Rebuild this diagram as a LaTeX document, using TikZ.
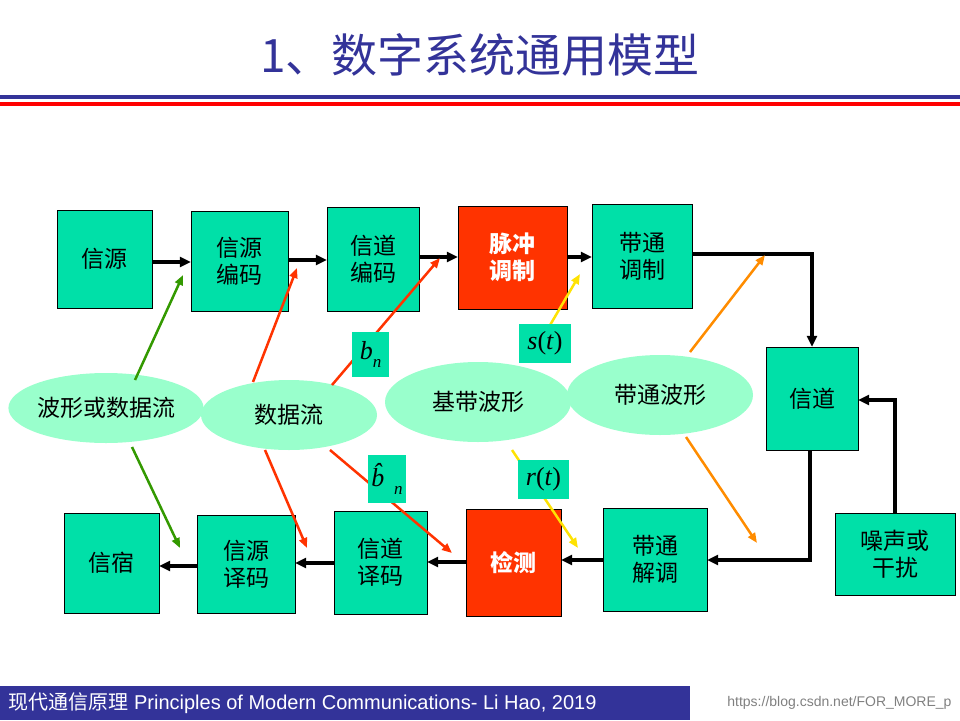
\documentclass[tikz,border=0pt]{standalone}
\usepackage{fontspec}
\setmainfont{Liberation Sans}
\newfontfamily\cjk{Noto Sans CJK SC}
\newfontfamily\tms{Liberation Serif}
\usetikzlibrary{arrows.meta,shapes.geometric}
\definecolor{tq}{HTML}{00E0A8}
\definecolor{rd}{HTML}{FF3300}
\definecolor{el}{HTML}{99FFCC}
\definecolor{tb}{HTML}{333399}
\begin{document}
\begin{tikzpicture}[x=1pt,y=-1pt,
 bx/.style={draw=black,fill=tq,inner sep=0pt,font=\cjk\fontsize{23}{27}\selectfont,align=center},
 rb/.style={bx,fill=rd,text=white,font=\cjk\bfseries\fontsize{23}{27}\selectfont},
 ell/.style={ellipse,fill=el,inner sep=0pt,font=\cjk\fontsize{23}{27}\selectfont},
 lab/.style={fill=tq,inner sep=0pt,font=\tms\fontsize{26}{28}\selectfont},
 ar/.style={line width=3.5pt,-{Triangle[length=11pt,width=10pt]}},
 da/.style={line width=2.5pt,-{Triangle[length=10pt,width=8pt]}}]
\useasboundingbox (0,0) rectangle (960,720);
\node[font=\cjk\fontsize{46}{50}\selectfont,text=tb] (title) at (480,55) {1、数字系统通用模型};
\fill[tb] (0,95) rectangle (960,99);
\fill[red] (0,102) rectangle (960,106);
\def\B#1#2#3#4#5#6#7{\node[#7,minimum width=#4-#2,minimum height=#5-#3] (#1) at ({(#2+#4)/2},{(#3+#5)/2}) {#6};}
\B{s1}{57}{210}{152}{308}{信源}{bx}
\B{s2}{191}{211}{288}{311}{信源\\编码}{bx}
\B{s3}{327}{207}{419}{311}{信道\\编码}{bx}
\B{s4}{458}{206}{567}{309}{脉冲\\调制}{rb}
\B{s5}{592}{204}{692}{308}{带通\\调制}{bx}
\B{ch}{766}{347}{858}{450}{信道}{bx}
\B{nz}{835}{513}{955}{595}{噪声或\\干扰}{bx}
\B{r5}{603}{508}{707}{611}{带通\\解调}{bx}
\B{r4}{466}{509}{561}{616}{检测}{rb}
\B{r3}{334}{511}{427}{614}{信道\\译码}{bx}
\B{r2}{197}{515}{295}{613}{信源\\译码}{bx}
\B{r1}{64}{513}{159}{613}{信宿}{bx}
\node[ell,minimum width=166,minimum height=70] (e1) at (106,408) {波形或数据流};
\node[ell,minimum width=176,minimum height=70] (e2) at (289,415) {数据流};
\node[ell,minimum width=186,minimum height=80] (e3) at (478,402) {基带波形};
\node[ell,minimum width=186,minimum height=80] (e4) at (660,395) {带通波形};
\draw[ar] (s1.east|-0,262) -- (s2.west|-0,262);
\draw[ar] (s2.east|-0,260) -- (s3.west|-0,260);
\draw[ar] (s3.east|-0,257) -- (s4.west|-0,257);
\draw[ar] (s4.east|-0,257) -- (s5.west|-0,257);
\coordinate (c1) at (812,254);
\draw[ar] (s5.east|-c1) -- (c1) -- (c1|-ch.north);
\coordinate (c2) at (810,560);
\draw[ar] (c2|-ch.south) -- (c2) -- (r5.east|-c2);
\coordinate (c3) at (895,400);
\draw[ar] (c3|-nz.north) -- (c3) -- (ch.east|-c3);
\draw[ar] (r5.west|-0,560) -- (r4.east|-0,560);
\draw[ar] (r4.west|-0,562) -- (r3.east|-0,562);
\draw[ar] (r3.west|-0,563) -- (r2.east|-0,563);
\draw[ar] (r2.west|-0,566) -- (r1.east|-0,566);
\coordinate (g1) at (183,275); \coordinate (g2) at (180,548);
\coordinate (o1) at (297,268); \coordinate (o2) at (307,548);
\coordinate (o3) at (440,258); \coordinate (o4) at (452,553);
\coordinate (y1) at (580,274); \coordinate (y2) at (578,548);
\coordinate (p1) at (765,255); \coordinate (p2) at (757,543);
\draw[da,color=green!50!black!80!yellow] (135,380) -- (g1);
\draw[da,color=green!50!black!80!yellow] (132,447) -- (g2);
\draw[da,color=rd] (253,382) -- (o1);
\draw[da,color=rd] (265,450) -- (o2);
\draw[da,color=rd] (332,385) -- (o3);
\draw[da,color=rd] (330,450) -- (o4);
\draw[da,color=yellow!85!orange] (529,361) -- (y1);
\draw[da,color=yellow!85!orange] (512,450) -- (y2);
\draw[da,color=orange!90!yellow] (690,352) -- (p1);
\draw[da,color=orange!90!yellow] (686,437) -- (p2);
\node[lab,minimum width=37,minimum height=45] (bn) at (370.5,354.5) {\textit{b}\raisebox{-8pt}{\fontsize{17}{18}\selectfont\textit{n}}};
\node[lab,minimum width=52,minimum height=39] (st) at (545,343.5) {\textit{s}(\textit{t})};
\node[lab,minimum width=38,minimum height=48] (bh) at (387,479) {\textit{\^{b}}\raisebox{-8pt}{\fontsize{17}{18}\selectfont\textit{n}}};
\node[lab,minimum width=51,minimum height=39] (rt) at (543.5,479.5) {\textit{r}(\textit{t})};
\fill[tb] (0,686) rectangle (690,720);
\node[text=white,anchor=west,font=\fontsize{20}{22}\selectfont] (ft) at (5,703) {{\cjk 现代通信原理} Principles of Modern Communications- Li Hao, 2019};
\node[text=gray,anchor=east,font=\fontsize{14}{16}\selectfont] (url) at (955,703) {https://blog.csdn.net/FOR\_MORE\_p};
\end{tikzpicture}
\end{document}
